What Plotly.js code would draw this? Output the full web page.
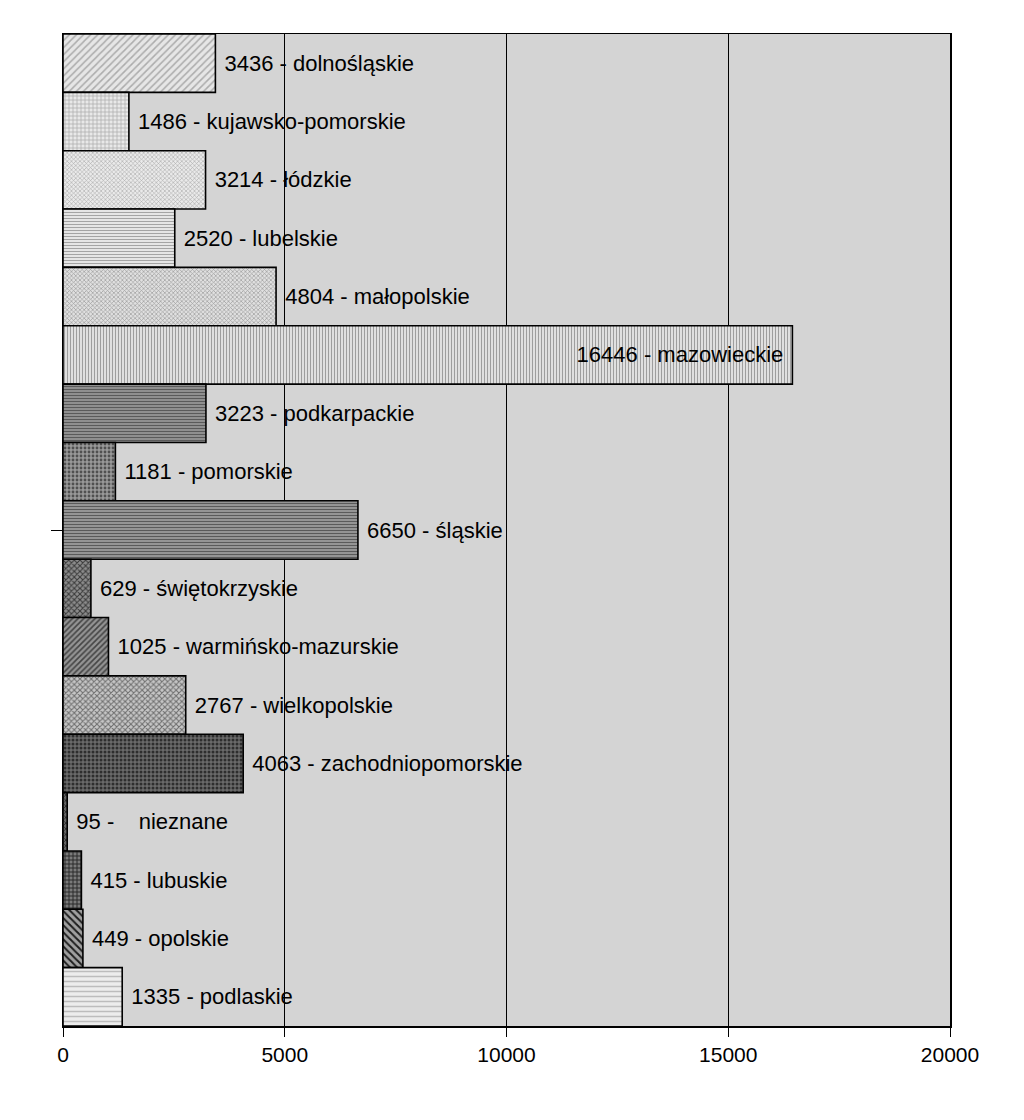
<!DOCTYPE html>
<html>
<head>
<meta charset="utf-8">
<script src="https://cdn.plot.ly/plotly-3.0.1.min.js"></script>
<style>html,body{margin:0;padding:0;background:#fff;}#chart{width:1024px;height:1120px;}</style>
</head>
<body>
<div id="chart"></div>
<script>
const regions = ["dolnośląskie","kujawsko-pomorskie","łódzkie","lubelskie","małopolskie","mazowieckie","podkarpackie","pomorskie","śląskie","świętokrzyskie","warmińsko-mazurskie","wielkopolskie","zachodniopomorskie","nieznane","lubuskie","opolskie","podlaskie"];
const values = [3436,1486,3214,2520,4804,16446,3223,1181,6650,629,1025,2767,4063,95,415,449,1335];
const separators = [" - "," - "," - "," - "," - "," - "," - "," - "," - "," - "," - "," - "," - "," -    "," - "," - "," - "];

const patShapes = ["/","+","x","-","x","|","-",".","-","x","/","x",".","x","+","\\","-"];
const patFg = ["#acacac","#a4a4a4","#a8a8a8","#a4a4a4","#9c9c9c","#9e9e9e","#5a5a5a","#505050","#5a5a5a","#3a3a3a","#444444","#6e6e6e","#2e2e2e","#2e2e2e","#222222","#1e1e1e","#bcbcbc"];
const patBg = ["#e6e6e6","#e8e8e8","#eaeaea","#ececec","#e0e0e0","#e8e8e8","#9a9a9a","#999999","#a0a0a0","#8c8c8c","#949494","#c6c6c6","#6a6a6a","#666666","#7a7a7a","#a0a0a0","#ececec"];
const patSize = [5,4,3,3,3,3,3,4,3,4,4,4,4,4,4,5,5];
const patSolid = [0.3,0.3,0.35,0.4,0.4,0.4,0.45,0.4,0.45,0.45,0.4,0.45,0.45,0.4,0.4,0.4,0.3];

const labels = values.map((v,i) => " " + v + separators[i] + regions[i] + (v > 15000 ? " " : ""));
const positions = values.map(v => v > 15000 ? "inside" : "outside");

const FONT = "Liberation Sans, Arial, sans-serif";

const trace = {
  type: "bar",
  orientation: "h",
  x: values,
  y: regions,
  text: labels,
  textposition: positions,
  insidetextanchor: "end",
  textfont: {family: FONT, size: 22, color: "#000"},
  insidetextfont: {family: FONT, size: 22, color: "#000"},
  outsidetextfont: {family: FONT, size: 22, color: "#000"},
  cliponaxis: false,
  constraintext: "none",
  hoverinfo: "none",
  marker: {
    line: {color: "#000", width: 1.6},
    pattern: {shape: patShapes, fgcolor: patFg, bgcolor: patBg, fgopacity: 1, size: patSize, solidity: patSolid, fillmode: "replace"}
  }
};

const layout = {
  width: 1024,
  height: 1120,
  margin: {l: 63, r: 74, t: 34, b: 94},
  paper_bgcolor: "#ffffff",
  plot_bgcolor: "#d4d4d4",
  bargap: 0,
  showlegend: false,
  font: {family: FONT, size: 20, color: "#000"},
  xaxis: {
    range: [0, 20000],
    tickvals: [0, 5000, 10000, 15000, 20000],
    ticktext: ["0","5000","10000","15000","20000"],
    showgrid: true,
    gridcolor: "#000",
    gridwidth: 1.2,
    zeroline: false,
    showline: true,
    linecolor: "#000",
    linewidth: 1.5,
    mirror: true,
    ticks: "outside",
    ticklen: 9,
    tickcolor: "#000",
    tickfont: {family: FONT, size: 21, color: "#000"}
  },
  yaxis: {
    type: "category",
    categoryorder: "array",
    categoryarray: regions,
    autorange: "reversed",
    showgrid: false,
    zeroline: false,
    showline: true,
    linecolor: "#000",
    linewidth: 1.5,
    mirror: true,
    tickvals: ["śląskie"],
    ticktext: [""],
    ticks: "outside",
    ticklen: 11,
    tickcolor: "#000"
  }
};

Plotly.newPlot("chart", [trace], layout, {staticPlot: true});
</script>
</body>
</html>
